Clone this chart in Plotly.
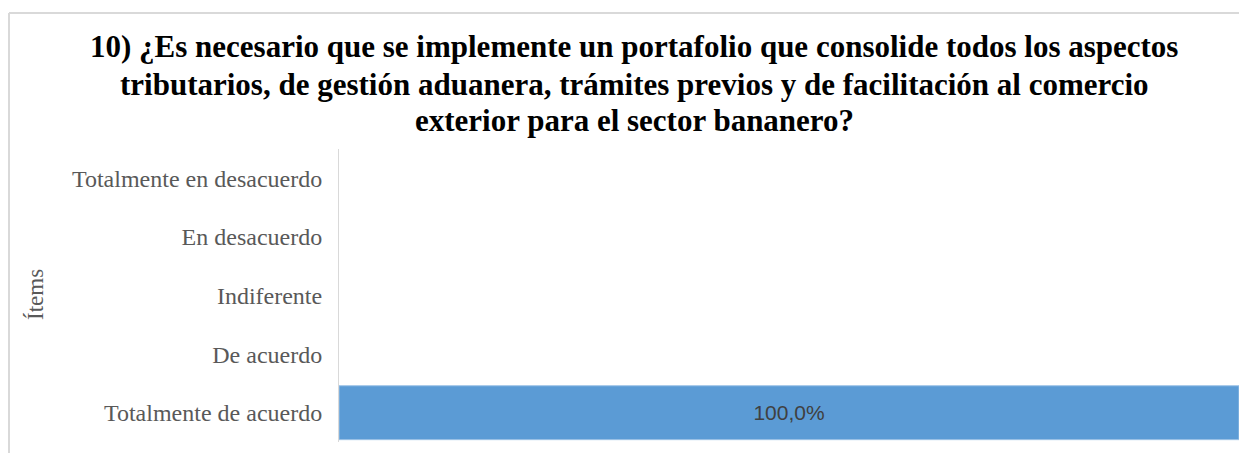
import plotly.graph_objects as go

categories = ["Totalmente de acuerdo", "De acuerdo", "Indiferente",
              "En desacuerdo", "Totalmente en desacuerdo"]
values = [1.0, 0.0, 0.0, 0.0, 0.0]
title_lines = [
    "10) ¿Es necesario que se implemente un portafolio que consolide todos los aspectos",
    "tributarios, de gestión aduanera, trámites previos y de facilitación al comercio",
    "exterior para el sector bananero?",
]
axis_title = "Ítems"

# page body has an 8px margin; work in window pixels and convert
OFF = 8
W, H = 1247 - OFF, 453 - OFF
ML, MR, MT, MB = 339 - OFF, 8, 149 - OFF, 11
PW, PH = W - ML - MR, H - MT - MB

def px_x(x):
    return (x - OFF - ML) / PW

def px_y(y):
    return (H - MB - (y - OFF)) / PH

labels = [(f"{v*100:.1f}%".replace(".", ",") if v > 0 else "") for v in values]
line_widths = [1 if v > 0 else 0 for v in values]

fig = go.Figure(go.Bar(
    x=values, y=categories, orientation="h",
    marker=dict(color="#5B9BD5", line=dict(color="#9DC3E6", width=line_widths)),
    width=0.92,
    text=labels, textposition="inside", insidetextanchor="middle",
    textfont=dict(family="Liberation Sans, Arial", size=21, color="#404040"),
    hoverinfo="skip",
))

annotations = []
for line, yc in zip(title_lines, [47, 84, 121]):
    annotations.append(dict(
        text=f"<b>{line}</b>", x=px_x(634), y=px_y(yc), xref="paper", yref="paper",
        xanchor="center", yanchor="middle", showarrow=False,
        font=dict(family="Liberation Serif, Times New Roman", size=31, color="#000000"),
    ))
annotations.append(dict(
    text=axis_title, x=px_x(35), y=px_y(295), xref="paper", yref="paper",
    xanchor="center", yanchor="middle", showarrow=False, textangle=-90,
    font=dict(family="Liberation Serif, Times New Roman", size=23, color="#595959"),
))

shapes = [
    dict(type="line", xref="paper", yref="paper", x0=px_x(9), x1=px_x(1300), y0=px_y(13), y1=px_y(13),
         line=dict(color="#D9D9D9", width=2)),
    dict(type="line", xref="paper", yref="paper", x0=px_x(9), x1=px_x(9), y0=px_y(13), y1=px_y(500),
         line=dict(color="#D9D9D9", width=2)),
]

fig.update_layout(
    width=W, height=H,
    margin=dict(l=ML, r=MR, t=MT, b=MB, pad=0),
    paper_bgcolor="white", plot_bgcolor="white",
    showlegend=False,
    annotations=annotations, shapes=shapes,
    xaxis=dict(range=[0, 1], visible=False, showgrid=False, zeroline=False, fixedrange=True),
    yaxis=dict(categoryorder="array", categoryarray=categories, showgrid=False, zeroline=False,
               showline=True, linecolor="#D9D9D9", linewidth=1, ticks="", ticklabelstandoff=11,
               tickfont=dict(family="Liberation Serif, Times New Roman", size=24, color="#595959"),
               fixedrange=True),
)

fig.write_html("out.html")
